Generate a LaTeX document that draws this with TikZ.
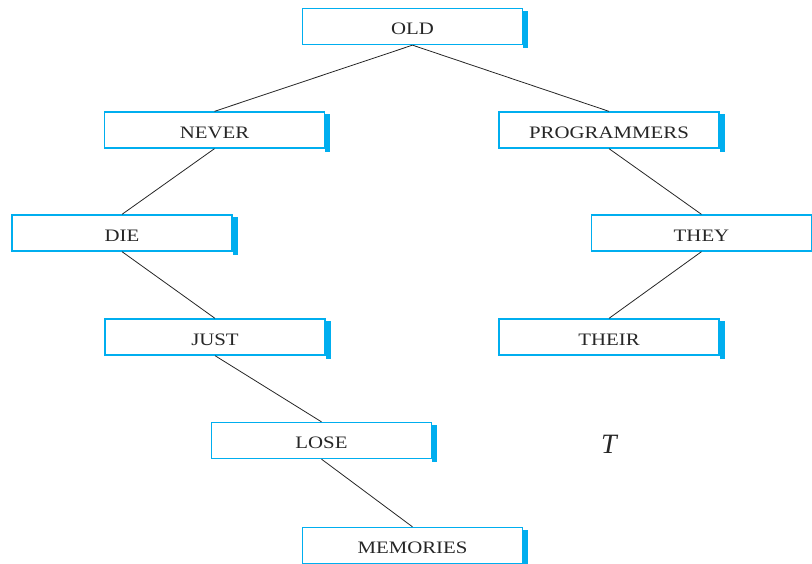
\documentclass[tikz,border=0pt]{standalone}
\usepackage{fontspec}
\setmainfont{Liberation Serif}
\newfontfamily\boxfont[FakeStretch=1.19]{Liberation Serif}
\definecolor{boxblue}{RGB}{0,174,239}
\tikzset{
  wordbox/.style={draw=boxblue, line width=1.3pt, minimum width=220pt, minimum height=36pt,
    inner sep=0pt, text=black!85},
  link/.style={draw=black!85, line width=0.8pt}
}
\newcommand{\boxtext}[1]{\raisebox{-2.5pt}[\height][0pt]{\boxfont\fontsize{17.5}{20}\selectfont #1}}
\begin{document}
\begin{tikzpicture}[x=1pt,y=-1pt]
\useasboundingbox (0,0) rectangle (812,563);
\node[wordbox] (old) at (412.5,26.5) {\boxtext{OLD}};
\node[wordbox] (never) at (214.5,130) {\boxtext{NEVER}};
\node[wordbox] (prog) at (609,130) {\boxtext{PROGRAMMERS}};
\node[wordbox] (die) at (122,233) {\boxtext{DIE}};
\node[wordbox] (they) at (701.5,233) {\boxtext{THEY}};
\node[wordbox] (just) at (215,337) {\boxtext{JUST}};
\node[wordbox] (their) at (609,337) {\boxtext{THEIR}};
\node[wordbox] (lose) at (321.5,440.5) {\boxtext{LOSE}};
\node[wordbox] (mem) at (412.5,545.5) {\boxtext{MEMORIES}};
\node[text=black!85, inner sep=0pt] (t) at (609,444.5) {\fontsize{28}{30}\selectfont\itshape T};
\foreach \n in {old,never,prog,die,they,just,their,lose,mem}{
  \fill[boxblue] ([yshift=-3pt]\n.north east) rectangle ([xshift=5pt,yshift=-3pt]\n.south east);
}
\draw[link] (old.south) -- (never.north);
\draw[link] (old.south) -- (prog.north);
\draw[link] (never.south) -- (die.north);
\draw[link] (die.south) -- (just.north);
\draw[link] (just.south) -- (lose.north);
\draw[link] (lose.south) -- (mem.north);
\draw[link] (prog.south) -- (they.north);
\draw[link] (they.south) -- (their.north);
\end{tikzpicture}
\end{document}
